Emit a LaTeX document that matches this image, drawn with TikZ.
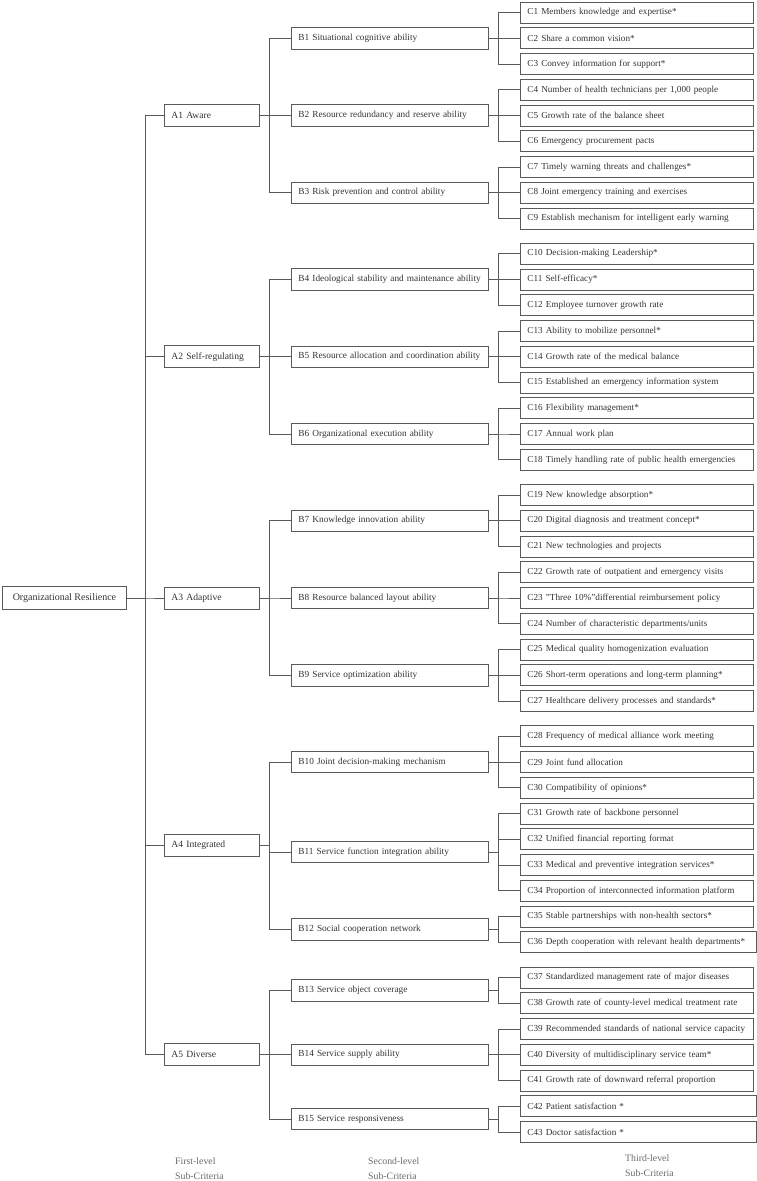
\documentclass[tikz,border=0pt]{standalone}
\usepackage{fontspec}
\setmainfont{Liberation Serif}
\definecolor{lineg}{HTML}{5A5A5A}
\definecolor{textg}{HTML}{333333}
\definecolor{labg}{HTML}{6A6A6A}
\newcommand\myfork[3]{\foreach \c in {#3} \draw[conn] (#1.east) -- (#1.east -| #2) |- (\c.west);}
\begin{document}
\begin{tikzpicture}[x=1pt,y=-1pt,
  every node/.style={text=textg},
  box/.style={draw=lineg, line width=0.9pt, rectangle, anchor=west, inner ysep=0pt, inner xsep=7pt, align=left,
    execute at begin node={\leavevmode\hbox\bgroup}, execute at end node={\egroup}},
  rootbox/.style={draw=lineg, line width=0.9pt, rectangle, anchor=west, inner sep=0pt, minimum height=23pt, minimum width=124pt, font=\fontsize{10}{12}\selectfont},
  abox/.style={box, minimum height=22pt, text width=81pt, font=\fontsize{9.6}{11}\selectfont},
  bbox/.style={box, minimum height=21.5pt, text width=183pt, font=\fontsize{9.3}{11}\selectfont},
  cbox/.style={box, minimum height=21pt, text width=219pt, font=\fontsize{9.2}{11}\selectfont},
  cwide/.style={cbox, text width=222pt},
  conn/.style={draw=lineg, line width=0.9pt},
  lab/.style={font=\fontsize{9.8}{15}\selectfont, text=labg, align=left, inner sep=0pt, anchor=west}]
\useasboundingbox (0,0) rectangle (757,1181);
\coordinate (t0) at (145,0);
\coordinate (t1) at (269,0);
\coordinate (t2) at (498,0);
% root
\node[rootbox] (R) at (2,598) {Organizational Resilience};
% A level
\node[abox] (A1) at (164,115.5) {A1 Aware};
\node[abox] (A2) at (164,356.75) {A2 Self-regulating};
\node[abox] (A3) at (164,598) {A3 Adaptive};
\node[abox] (A4) at (164,845.69) {A4 Integrated};
\node[abox] (A5) at (164,1054.75) {A5 Diverse};
% B level
\node[bbox] (B1) at (291,38.25) {B1 Situational cognitive ability};
\node[bbox] (B2) at (291,115.5) {B2 Resource redundancy and reserve ability};
\node[bbox] (B3) at (291,192.75) {B3 Risk prevention and control ability};
\node[bbox] (B4) at (291,279.5) {B4 Ideological stability and maintenance ability};
\node[bbox] (B5) at (291,356.75) {B5 Resource allocation and coordination ability};
\node[bbox] (B6) at (291,434) {B6 Organizational execution ability};
\node[bbox] (B7) at (291,520.75) {B7 Knowledge innovation ability};
\node[bbox] (B8) at (291,598) {B8 Resource balanced layout ability};
\node[bbox] (B9) at (291,675.25) {B9 Service optimization ability};
\node[bbox] (B10) at (291,762) {B10 Joint decision-making mechanism};
\node[bbox] (B11) at (291,852.125) {B11 Service function integration ability};
\node[bbox] (B12) at (291,929.375) {B12 Social cooperation network};
\node[bbox] (B13) at (291,990.375) {B13 Service object coverage};
\node[bbox] (B14) at (291,1054.75) {B14 Service supply ability};
\node[bbox] (B15) at (291,1119.125) {B15 Service responsiveness};
% C level
\node[cbox] (C1) at (520,12.5) {C1 Members knowledge and expertise*};
\node[cbox] (C2) at (520,38.25) {C2 Share a common vision*};
\node[cbox] (C3) at (520,64) {C3 Convey information for support*};
\node[cbox] (C4) at (520,89.75) {C4 Number of health technicians per 1,000 people};
\node[cbox] (C5) at (520,115.5) {C5 Growth rate of the balance sheet};
\node[cbox] (C6) at (520,141.25) {C6 Emergency procurement pacts};
\node[cbox] (C7) at (520,167) {C7 Timely warning threats and challenges*};
\node[cbox] (C8) at (520,192.75) {C8 Joint emergency training and exercises};
\node[cbox] (C9) at (520,218.5) {C9 Establish mechanism for intelligent early warning};
\node[cbox] (C10) at (520,253.75) {C10 Decision-making Leadership*};
\node[cbox] (C11) at (520,279.5) {C11 Self-efficacy*};
\node[cbox] (C12) at (520,305.25) {C12 Employee turnover growth rate};
\node[cbox] (C13) at (520,331) {C13 Ability to mobilize personnel*};
\node[cbox] (C14) at (520,356.75) {C14 Growth rate of the medical balance};
\node[cbox] (C15) at (520,382.5) {C15 Established an emergency information system};
\node[cbox] (C16) at (520,408.25) {C16 Flexibility management*};
\node[cbox] (C17) at (520,434) {C17 Annual work plan};
\node[cbox] (C18) at (520,459.75) {C18 Timely handling rate of public health emergencies};
\node[cbox] (C19) at (520,495) {C19 New knowledge absorption*};
\node[cbox] (C20) at (520,520.75) {C20 Digital diagnosis and treatment concept*};
\node[cbox] (C21) at (520,546.5) {C21 New technologies and projects};
\node[cbox] (C22) at (520,572.25) {C22 Growth rate of outpatient and emergency visits};
\node[cbox] (C23) at (520,598) {C23 "Three 10\%"differential reimbursement policy};
\node[cbox] (C24) at (520,623.75) {C24 Number of characteristic departments/units};
\node[cbox] (C25) at (520,649.5) {C25 Medical quality homogenization evaluation};
\node[cbox] (C26) at (520,675.25) {C26 Short-term operations and long-term planning*};
\node[cbox] (C27) at (520,701) {C27 Healthcare delivery processes and standards*};
\node[cbox] (C28) at (520,736.25) {C28 Frequency of medical alliance work meeting};
\node[cbox] (C29) at (520,762) {C29 Joint fund allocation};
\node[cbox] (C30) at (520,787.75) {C30 Compatibility of opinions*};
\node[cbox] (C31) at (520,813.5) {C31 Growth rate of backbone personnel};
\node[cbox] (C32) at (520,839.25) {C32 Unified financial reporting format};
\node[cbox] (C33) at (520,865) {C33 Medical and preventive integration services*};
\node[cbox] (C34) at (520,890.75) {C34 Proportion of interconnected information platform};
\node[cbox] (C35) at (520,916.5) {C35 Stable partnerships with non-health sectors*};
\node[cwide] (C36) at (520,942.25) {C36 Depth cooperation with relevant health departments*};
\node[cbox] (C37) at (520,977.5) {C37 Standardized management rate of major diseases};
\node[cbox] (C38) at (520,1003.25) {C38 Growth rate of county-level medical treatment rate};
\node[cbox] (C39) at (520,1029) {C39 Recommended standards of national service capacity};
\node[cbox] (C40) at (520,1054.75) {C40 Diversity of multidisciplinary service team*};
\node[cbox] (C41) at (520,1080.5) {C41 Growth rate of downward referral proportion};
\node[cwide] (C42) at (520,1106.25) {C42 Patient satisfaction *};
\node[cwide] (C43) at (520,1132) {C43 Doctor satisfaction *};
% connectors
\myfork{R}{t0}{A1,A2,A3,A4,A5}
\myfork{A1}{t1}{B1,B2,B3}
\myfork{A2}{t1}{B4,B5,B6}
\myfork{A3}{t1}{B7,B8,B9}
\myfork{A4}{t1}{B10,B11,B12}
\myfork{A5}{t1}{B13,B14,B15}
\myfork{B1}{t2}{C1,C2,C3}
\myfork{B2}{t2}{C4,C5,C6}
\myfork{B3}{t2}{C7,C8,C9}
\myfork{B4}{t2}{C10,C11,C12}
\myfork{B5}{t2}{C13,C14,C15}
\myfork{B6}{t2}{C16,C17,C18}
\myfork{B7}{t2}{C19,C20,C21}
\myfork{B8}{t2}{C22,C23,C24}
\myfork{B9}{t2}{C25,C26,C27}
\myfork{B10}{t2}{C28,C29,C30}
\myfork{B11}{t2}{C31,C32,C33,C34}
\myfork{B12}{t2}{C35,C36}
\myfork{B13}{t2}{C37,C38}
\myfork{B14}{t2}{C39,C40,C41}
\myfork{B15}{t2}{C42,C43}
% bottom labels
\node[lab] (L1) at (175,1168.5) {First-level\\Sub-Criteria};
\node[lab] (L2) at (368,1168.5) {Second-level\\Sub-Criteria};
\node[lab] (L3) at (625,1166) {Third-level\\Sub-Criteria};
\end{tikzpicture}
\end{document}
